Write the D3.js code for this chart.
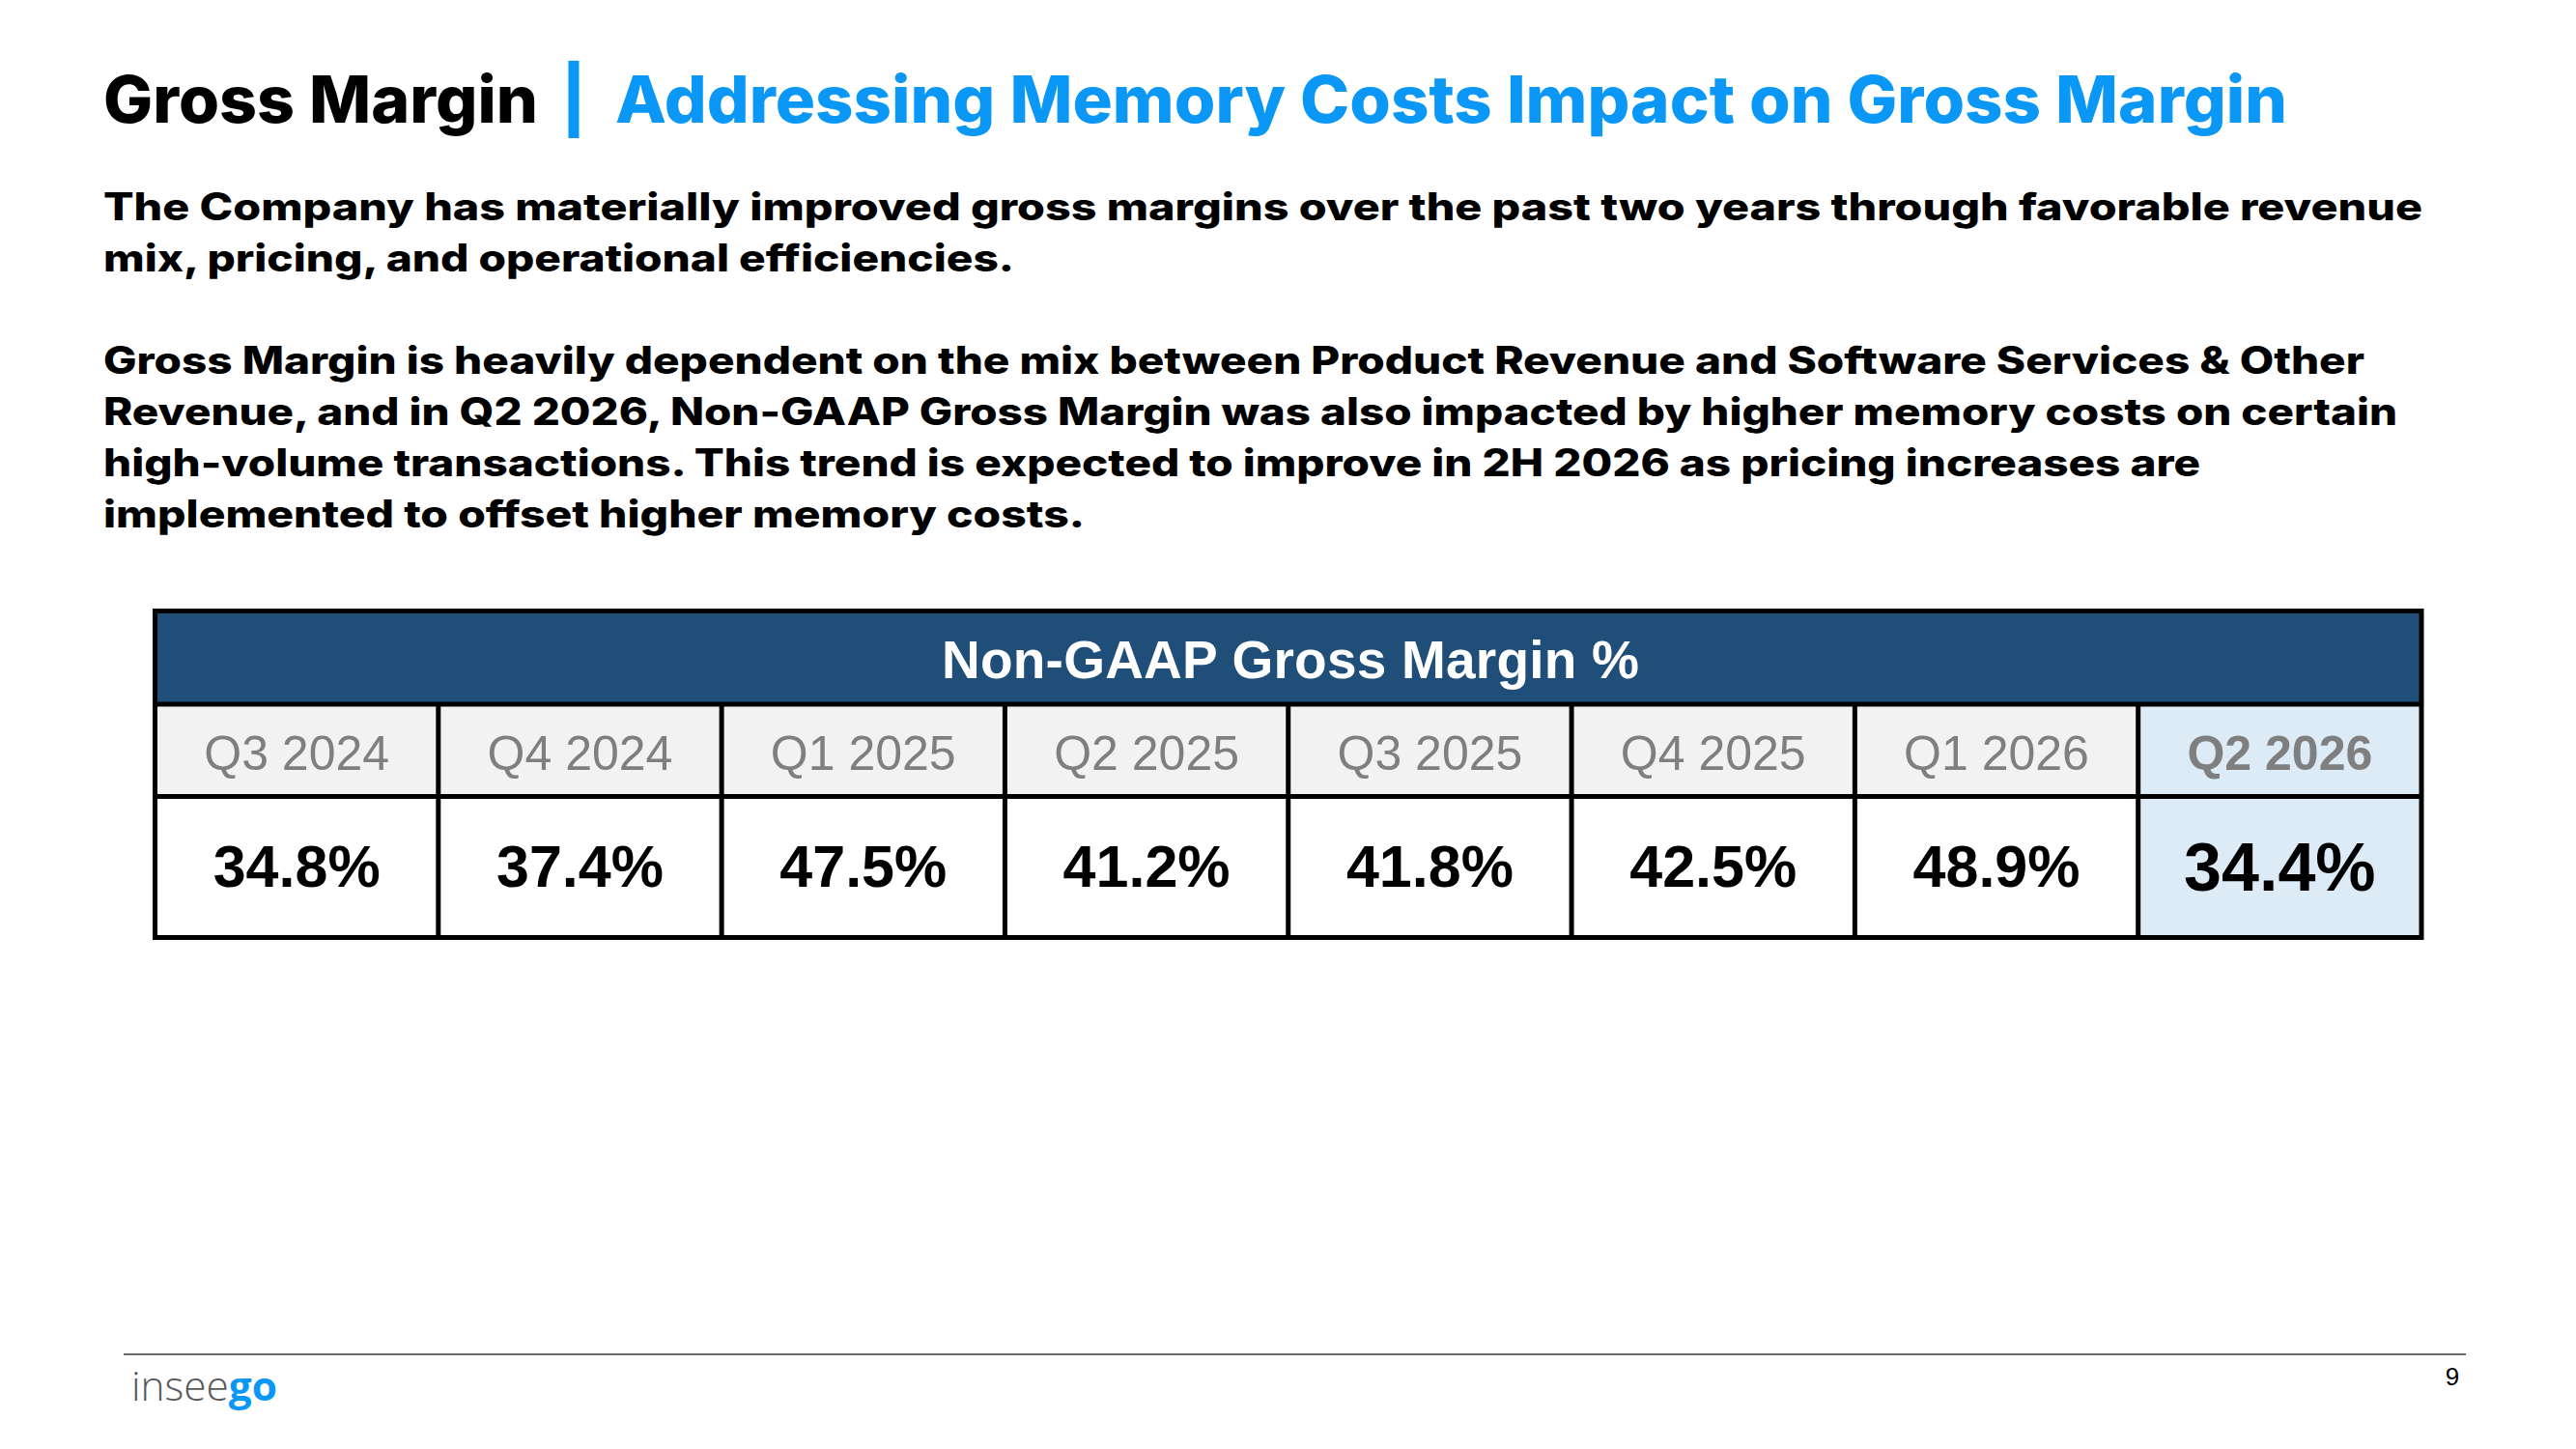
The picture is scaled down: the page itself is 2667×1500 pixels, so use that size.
<!DOCTYPE html>
<html>
<head>
<meta charset="utf-8">
<script src="https://cdn.jsdelivr.net/npm/d3@7"></script>
<style>
  body { margin: 0; background: #fff; }
  svg { display: block; }
</style>
</head>
<body>
<div id="slide"></div>
<script>
// data
const quarters = ["Q3 2024", "Q4 2024", "Q1 2025", "Q2 2025", "Q3 2025", "Q4 2025", "Q1 2026", "Q2 2026"];
const grossMargin = [34.8, 37.4, 47.5, 41.2, 41.8, 42.5, 48.9, 34.4];
const highlightQuarter = "Q2 2026";
const tableTitle = "Non-GAAP Gross Margin %";
const titleMain = "Gross Margin";
const titleSub = "Addressing Memory Costs Impact on Gross Margin";
const bodyLines = [
    "The Company has materially improved gross margins over the past two years through favorable revenue",
    "mix, pricing, and operational efficiencies.",
    "Gross Margin is heavily dependent on the mix between Product Revenue and Software Services & Other",
    "Revenue, and in Q2 2026, Non-GAAP Gross Margin was also impacted by higher memory costs on certain",
    "high-volume transactions. This trend is expected to improve in 2H 2026 as pricing increases are",
    "implemented to offset higher memory costs."
];
const pageNumber = "9";

// layout
const W = 2667, H = 1500;
const left = 107;
const bodyBaselines = [228, 281, 387, 440, 493, 546];
const bodyWidths = [2401, 943, 2341, 2375, 2171, 1016];
const table = {x0: 160.5, x1: 2507, top: 632.5, headBottom: 729, labelBottom: 824.5, bottom: 970.5, stroke: 5};
const blue = "#0A97F5";
const sans = "Inter, 'Open Sans', sans-serif";
const arial = "'Liberation Sans', Arial, sans-serif";

const svg = d3.select("#slide").append("svg")
    .attr("width", W)
    .attr("height", H)
    .attr("viewBox", `0 0 ${W} ${H}`);

svg.append("rect").attr("width", W).attr("height", H).attr("fill", "#fff");

// title
const title = svg.append("g").attr("font-family", sans).attr("font-weight", 800).attr("font-size", 67);
title.append("text")
    .attr("x", left).attr("y", 127)
    .attr("fill", "#000")
    .attr("textLength", 450).attr("lengthAdjust", "spacingAndGlyphs")
    .text(titleMain);
title.append("text")
    .attr("x", 594).attr("y", 127)
    .attr("text-anchor", "middle")
    .attr("fill", blue)
    .text("|");
title.append("text")
    .attr("x", 637).attr("y", 127)
    .attr("fill", blue)
    .attr("textLength", 1731).attr("lengthAdjust", "spacingAndGlyphs")
    .text(titleSub);

// body copy
svg.append("g")
    .attr("font-family", sans)
    .attr("font-weight", 800)
    .attr("font-size", 39)
    .attr("fill", "#000")
    .selectAll("text")
    .data(bodyLines)
    .join("text")
    .attr("x", left)
    .attr("y", (d, i) => bodyBaselines[i])
    .attr("textLength", (d, i) => bodyWidths[i])
    .attr("lengthAdjust", "spacingAndGlyphs")
    .text(d => d);

// table
const rows = quarters.map((q, i) => ({quarter: q, value: grossMargin[i], hi: q === highlightQuarter}));
const x = d3.scaleBand().domain(quarters).range([table.x0, table.x1]);
const tg = svg.append("g").attr("class", "marginTable");

tg.append("rect")
    .attr("x", table.x0).attr("y", table.top)
    .attr("width", table.x1 - table.x0).attr("height", table.headBottom - table.top)
    .attr("fill", "#1F4E79");

tg.selectAll(".labelCell")
    .data(rows)
    .join("rect")
    .attr("class", "labelCell")
    .attr("x", d => x(d.quarter)).attr("y", table.headBottom)
    .attr("width", x.bandwidth()).attr("height", table.labelBottom - table.headBottom)
    .attr("fill", d => d.hi ? "#DDEBF7" : "#F2F2F2");

tg.selectAll(".valueCell")
    .data(rows)
    .join("rect")
    .attr("class", "valueCell")
    .attr("x", d => x(d.quarter)).attr("y", table.labelBottom)
    .attr("width", x.bandwidth()).attr("height", table.bottom - table.labelBottom)
    .attr("fill", d => d.hi ? "#DDEBF7" : "#fff");

// grid
const grid = tg.append("g").attr("stroke", "#000").attr("stroke-width", table.stroke);
grid.selectAll(".hLine")
    .data([table.headBottom, table.labelBottom])
    .join("line")
    .attr("x1", table.x0).attr("x2", table.x1)
    .attr("y1", d => d).attr("y2", d => d);
grid.selectAll(".vLine")
    .data(quarters.slice(1))
    .join("line")
    .attr("x1", d => x(d)).attr("x2", d => x(d))
    .attr("y1", table.headBottom).attr("y2", table.bottom);
grid.append("rect")
    .attr("x", table.x0).attr("y", table.top)
    .attr("width", table.x1 - table.x0).attr("height", table.bottom - table.top)
    .attr("fill", "none");

tg.append("text")
    .attr("x", 1336).attr("y", 702)
    .attr("text-anchor", "middle")
    .attr("font-family", arial).attr("font-weight", 700).attr("font-size", 55)
    .attr("fill", "#fff")
    .attr("textLength", 722).attr("lengthAdjust", "spacing")
    .text(tableTitle);

tg.selectAll(".qLabel")
    .data(rows)
    .join("text")
    .attr("class", "qLabel")
    .attr("x", d => x(d.quarter) + x.bandwidth() / 2)
    .attr("y", 797)
    .attr("text-anchor", "middle")
    .attr("font-family", arial)
    .attr("font-weight", d => d.hi ? 700 : 400)
    .attr("font-size", 50)
    .attr("fill", "#7F7F7F")
    .text(d => d.quarter);

tg.selectAll(".qValue")
    .data(rows)
    .join("text")
    .attr("class", "qValue")
    .attr("x", d => x(d.quarter) + x.bandwidth() / 2)
    .attr("y", d => d.hi ? 922 : 918)
    .attr("text-anchor", "middle")
    .attr("font-family", arial)
    .attr("font-weight", 700)
    .attr("font-size", d => d.hi ? 70 : 61)
    .attr("fill", "#000")
    .text(d => d.value.toFixed(1) + "%");

// footer
svg.append("line")
    .attr("x1", 128).attr("x2", 2553)
    .attr("y1", 1402).attr("y2", 1402)
    .attr("stroke", "#6b6b6b").attr("stroke-width", 2);

const logo = svg.append("text")
    .attr("x", 136).attr("y", 1450)
    .attr("font-family", "'Open Sans', sans-serif")
    .attr("font-size", 42)
    .attr("textLength", 151).attr("lengthAdjust", "spacingAndGlyphs");
logo.append("tspan").attr("fill", "#58595B").attr("font-weight", 300).text("insee");
logo.append("tspan").attr("fill", blue).attr("font-weight", 700).text("go");

svg.append("text")
    .attr("x", 2539).attr("y", 1434)
    .attr("text-anchor", "middle")
    .attr("font-family", arial).attr("font-size", 26)
    .attr("fill", "#000")
    .text(pageNumber);
</script>
</body>
</html>
